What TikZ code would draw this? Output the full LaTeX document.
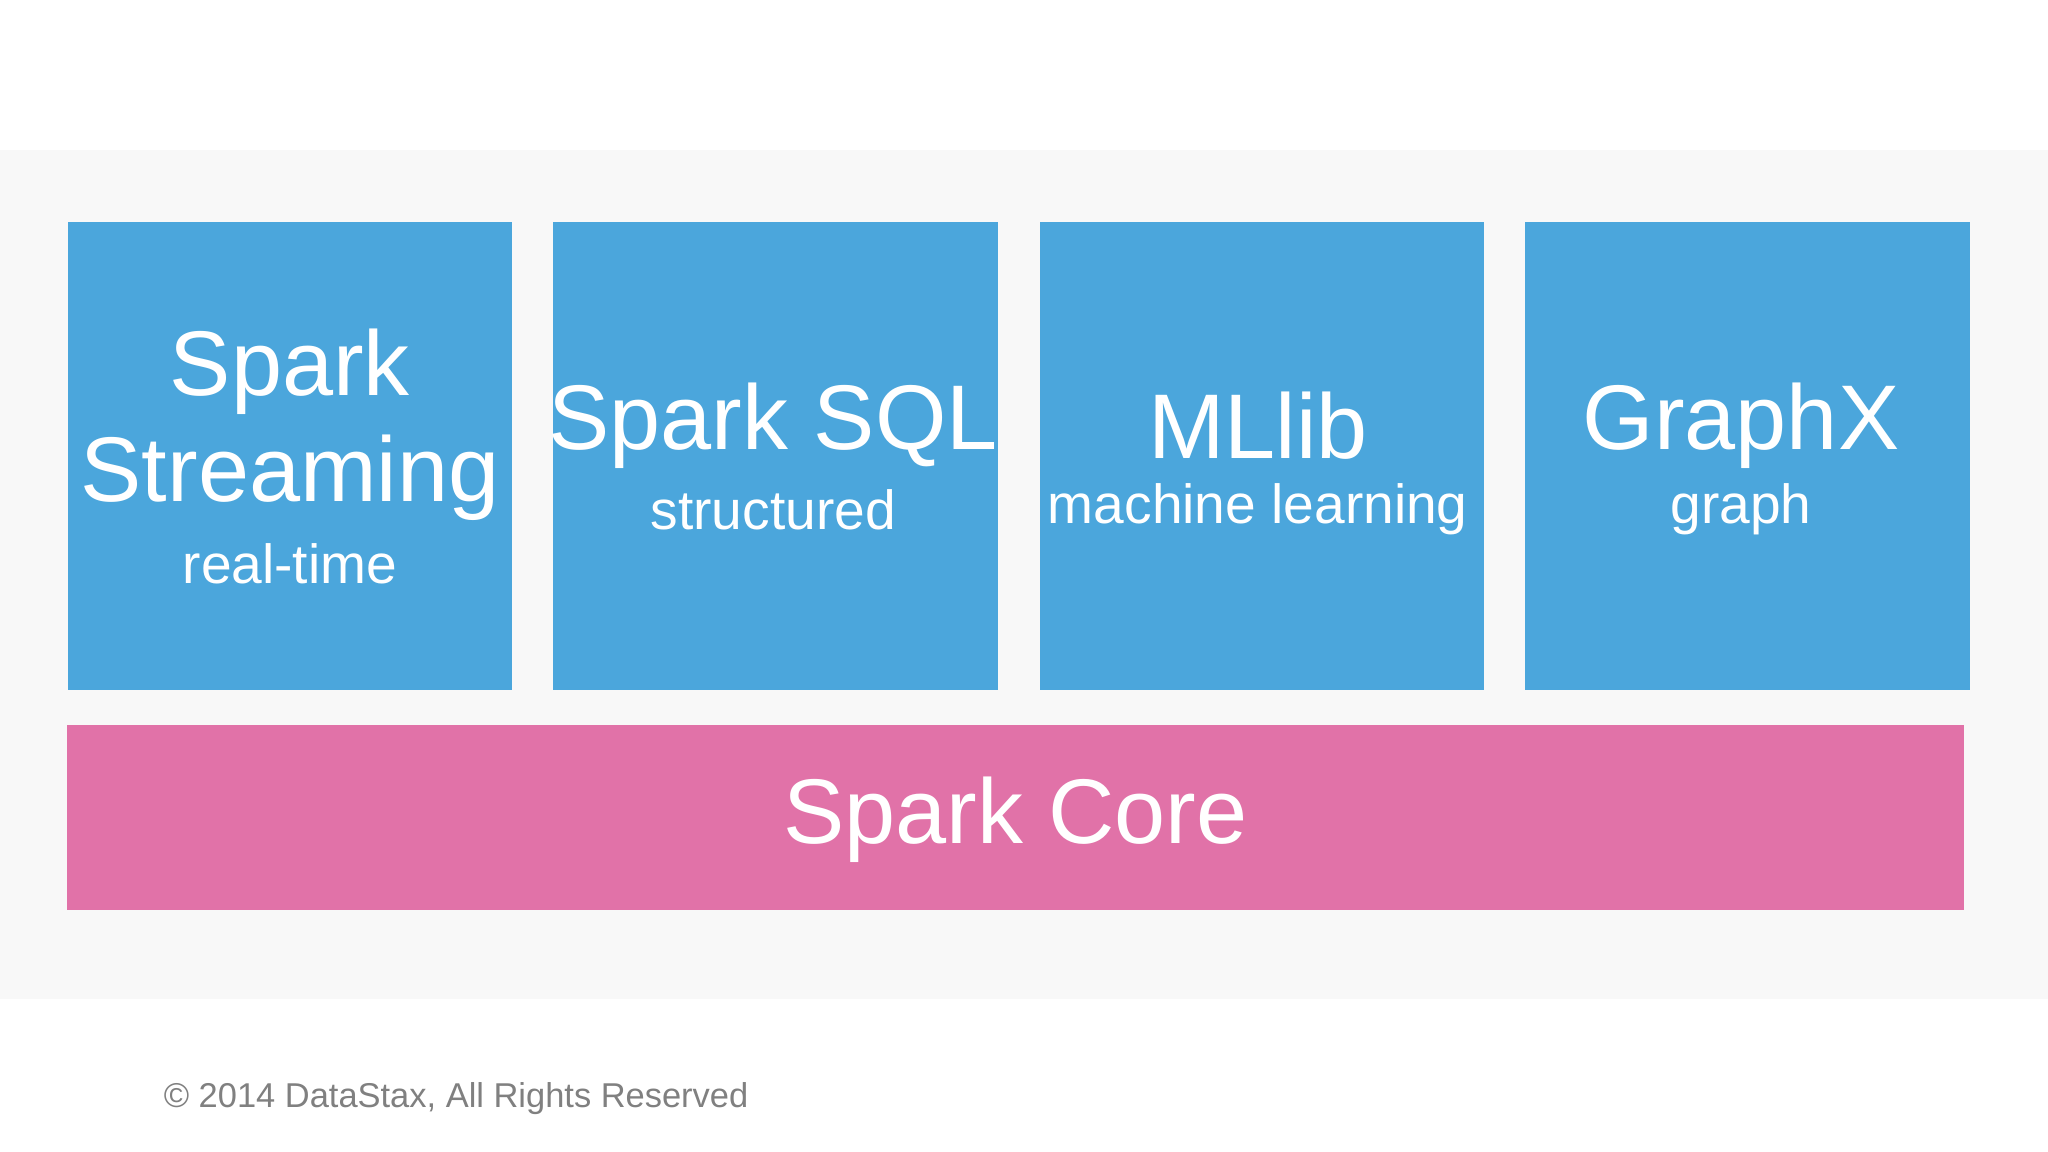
\documentclass[tikz,border=0pt]{standalone}
\usepackage{fontspec}
\setmainfont{Liberation Sans}
\usetikzlibrary{positioning}
\definecolor{libblue}{HTML}{4BA6DC}
\definecolor{corepink}{HTML}{E172A8}
\definecolor{bandgray}{HTML}{F8F8F8}
\begin{document}
\begin{tikzpicture}[x=0.01cm, y=-0.01cm,
    libnode/.style={fill=libblue, text=white, minimum width=3.4cm, minimum height=3.58cm, inner sep=0pt, align=center},
    corenode/.style={fill=corepink, text=white, minimum width=14.51cm, minimum height=1.42cm, inner sep=0pt},
    big/.style={font=\fontsize{20}{23}\selectfont},
    small/.style={font=\fontsize{12}{14}\selectfont}
]
\useasboundingbox (0,0) rectangle (1568,882);
\fill[bandgray] (0,115) rectangle (1568,765);
\node[libnode](streaming) at (222,349){};
\node[libnode](sql)[right=0.3cm of streaming]{};
\node[libnode](mllib)[right=0.31cm of sql]{};
\node[libnode](graphx)[right=0.3cm of mllib]{};
\node[corenode](core) at (777.5,626){};
\node[big, text=white] at (222,285){Spark};
\node[big, text=white] at (222,366){Streaming};
\node[small, text=white] at (222,432){real-time};
\node[big, text=white] at (592,326){Spark SQL};
\node[small, text=white] at (592,390){structured};
\node[big, text=white] at (963,326){MLlib};
\node[small, text=white] at (963,390){machine learning};
\node[big, text=white] at (1333,326){GraphX};
\node[small, text=white] at (1333,390){graph};
\node[big, text=white] at (777.5,628){Spark Core};
\node[anchor=west, text=gray, font=\fontsize{7.5}{9}\selectfont](copy) at (113,841){© 2014 DataStax, All Rights Reserved};
\end{tikzpicture}
\end{document}
